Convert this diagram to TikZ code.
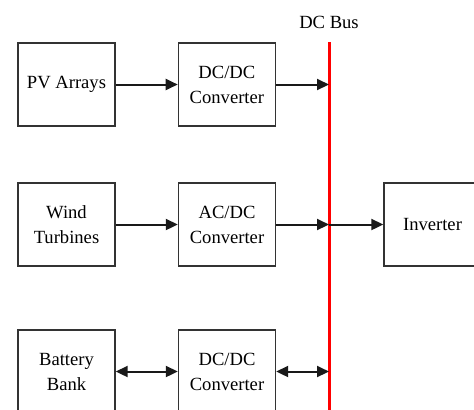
\documentclass[tikz,border=0pt]{standalone}
\usepackage{fontspec}
\setmainfont{Liberation Serif}
\usetikzlibrary{
  arrows.meta,
  positioning
}

\begin{document}
\begin{tikzpicture}[
      x=0.5pt, y=-0.5pt,
      node distance=31pt,
      bloco/.style={draw=black!80, line width=0.7pt, minimum width=48.5pt, minimum height=41.5pt, align=center, inner sep=1pt, font=\fontsize{9.3}{12.5}\selectfont},
      seta/.style={-{Triangle[length=6pt,width=5.5pt]}, line width=1pt, black!90},
      seta_dupla/.style={{Triangle[length=6pt,width=5.5pt]}-{Triangle[length=6pt,width=5.5pt]}, line width=1pt, black!90},
      barra/.style={red, line width=1.5pt}
  ]
      \useasboundingbox (0,0) rectangle (474,409);
      \clip (0,0) rectangle (474,409);

      % Barramento
      \coordinate (bustop) at (329,42);
      \coordinate (busbot) at (329,430);
      \draw[barra] (bustop) -- (busbot);
      \node[font=\fontsize{9.3}{11}\selectfont] (buslabel) at (329,22) {DC Bus};

      % Fontes
      \node[bloco] (pv) at (66.5,84.5) {PV Arrays};
      \node[bloco, right=of pv] (conv1) {DC/DC\\Converter};

      \node[bloco] (wind) at (66.5,224.5) {Wind\\Turbines};
      \node[bloco] (conv2) at (227,224.5) {AC/DC\\Converter};

      \node[bloco] (bat) at (66.5,371.5) {Battery\\Bank};
      \node[bloco] (conv3) at (227,371.5) {DC/DC\\Converter};

      \node[bloco] (inv) at (432.5,224.5) {Inverter};

      % Ligações
      \draw[seta] (pv) -- (conv1);
      \draw[seta] (conv1) -- (conv1 -| bustop);
      \draw[seta] (wind) -- (conv2);
      \draw[seta] (conv2) -- (conv2 -| bustop);
      \draw[seta] (conv2 -| bustop) -- (inv);
      \draw[seta_dupla] (bat) -- (conv3);
      \draw[seta_dupla] (conv3) -- (conv3 -| bustop);

  \end{tikzpicture}
\end{document}
